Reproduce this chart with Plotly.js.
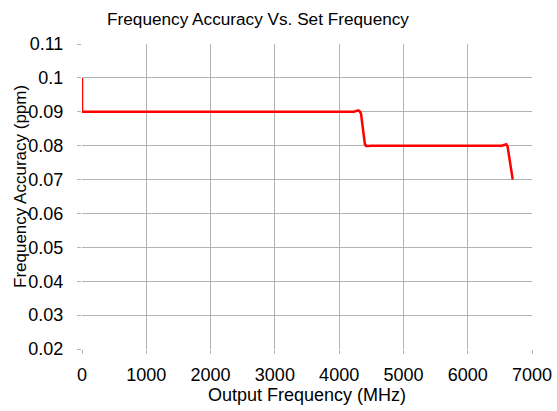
<!DOCTYPE html>
<html><head><meta charset="utf-8">
<script src="https://cdn.plot.ly/plotly-3.0.1.min.js"></script>
<style>html,body{margin:0;padding:0;background:#fff}#c{width:557px;height:411px}</style>
</head><body><div id="c"></div>
<script>
const freqMHz = [0, 0, 4230, 4270, 4300, 4320, 4340, 4400, 4420, 4450, 4500, 6530, 6570, 6600, 6620, 6700];
const accuracyPpm = [0.1, 0.09, 0.09, 0.0902, 0.0904, 0.0901, 0.0895, 0.0805, 0.0799, 0.0799, 0.08, 0.08, 0.0802, 0.0804, 0.0798, 0.07];
const xTicks = [0, 1000, 2000, 3000, 4000, 5000, 6000, 7000];
const yTicks = [0.02, 0.03, 0.04, 0.05, 0.06, 0.07, 0.08, 0.09, 0.1, 0.11];
const yTickText = ['0.02','0.03','0.04','0.05','0.06','0.07','0.08','0.09','0.1','0.11'];
const chartTitle = 'Frequency Accuracy Vs. Set Frequency';
const xTitle = 'Output Frequency (MHz)';
const yTitle = 'Frequency Accuracy (ppm)';

const font = {family: 'Liberation Sans, Arial, sans-serif', color: '#000'};
Plotly.newPlot('c', [{
  x: freqMHz, y: accuracyPpm, type: 'scatter', mode: 'lines',
  line: {color: '#ff0000', width: 2.5, shape: 'linear'},
  hoverinfo: 'none'
}], {
  width: 557, height: 411,
  margin: {l: 82, r: 25, t: 44, b: 62},
  paper_bgcolor: '#fff', plot_bgcolor: '#fff',
  showlegend: false,
  title: {text: chartTitle, font: Object.assign({size: 17.2}, font), x: 258/557, xanchor: 'center', y: 0.955, yanchor: 'middle'},
  xaxis: {
    range: [0, 7000], tickvals: xTicks, ticktext: xTicks.map(String),
    showgrid: true, gridcolor: '#b3b3b3', gridwidth: 1, zeroline: false,
    showline: false, ticks: 'outside', ticklen: 4, tickcolor: '#b3b3b3',
    ticklabelstandoff: 5,
    tickfont: Object.assign({size: 18}, font),
    title: {text: xTitle, font: Object.assign({size: 18}, font), standoff: 4}
  },
  yaxis: {
    range: [0.02, 0.11], tickvals: yTicks, ticktext: yTickText,
    showgrid: true, gridcolor: '#b3b3b3', gridwidth: 1, zeroline: false,
    showline: false, ticks: 'outside', ticklen: 4, tickcolor: '#b3b3b3',
    ticklabelstandoff: 10,
    tickfont: Object.assign({size: 18}, font)
  },
  annotations: [{
    text: yTitle, textangle: -90, showarrow: false,
    xref: 'paper', yref: 'paper', x: (20 - 82) / 450, y: (349 - 187) / 305,
    xanchor: 'center', yanchor: 'middle',
    font: Object.assign({size: 17}, font)
  }]
}, {staticPlot: true});
</script></body></html>
